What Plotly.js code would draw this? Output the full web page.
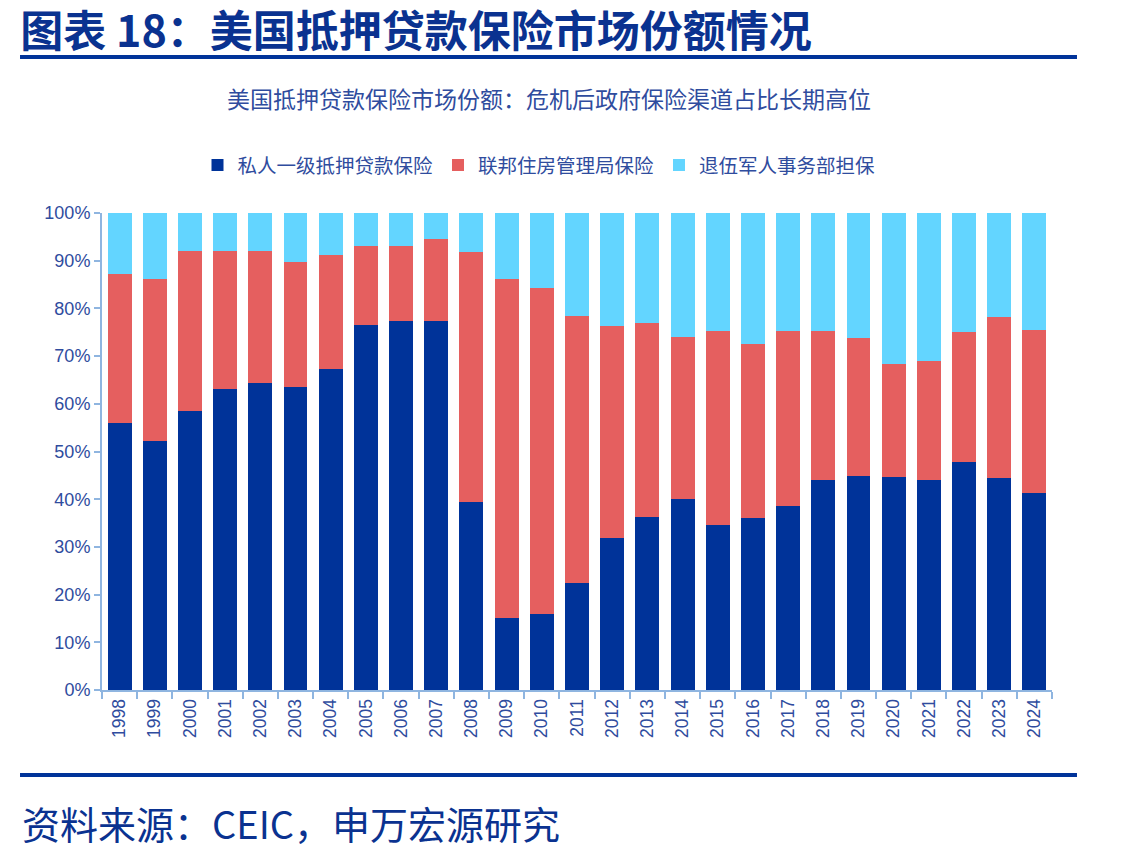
<!DOCTYPE html>
<html>
<head>
<meta charset="utf-8">
<script src="https://cdn.plot.ly/plotly-3.0.1.min.js"></script>
<style>
  html, body { margin: 0; padding: 0; background: #ffffff; }
  #chart { width: 1125px; height: 852px; }
</style>
</head>
<body>
<div id="chart"></div>
<script>
// US mortgage insurance market share by channel, 1998-2024 (%)
const years = ['1998','1999','2000','2001','2002','2003','2004','2005','2006','2007','2008','2009','2010','2011',
               '2012','2013','2014','2015','2016','2017','2018','2019','2020','2021','2022','2023','2024'];

// Private primary mortgage insurance
const privateShare = [56.0, 52.2, 58.5, 63.0, 64.4, 63.6, 67.2, 76.5, 77.4, 77.4, 39.4, 15.2, 15.9, 22.4,
                      31.8, 36.3, 40.0, 34.6, 36.1, 38.5, 44.0, 44.9, 44.7, 44.0, 47.9, 44.5, 41.2];
// Federal Housing Administration
const fhaShare = [31.2, 34.0, 33.6, 29.1, 27.7, 26.1, 24.0, 16.6, 15.7, 17.1, 52.4, 70.9, 68.3, 56.0,
                  44.6, 40.6, 34.1, 40.6, 36.5, 36.7, 31.2, 29.0, 23.6, 25.0, 27.2, 33.8, 34.3];
// Department of Veterans Affairs guarantees
const vaShare = [12.8, 13.8, 7.9, 7.9, 7.9, 10.3, 8.8, 6.9, 6.9, 5.5, 8.2, 13.9, 15.8, 21.6,
                 23.6, 23.1, 25.9, 24.8, 27.4, 24.8, 24.8, 26.1, 31.7, 31.0, 24.9, 21.7, 24.5];

const seriesNames = ['私人一级抵押贷款保险', '联邦住房管理局保险', '退伍军人事务部担保'];

const mainTitle = '图表 18：美国抵押贷款保险市场份额情况';
const subTitle = '美国抵押贷款保险市场份额：危机后政府保险渠道占比长期高位';
const sourceNote = '资料来源：CEIC，申万宏源研究';

const CJK = '"Noto Sans CJK SC", "Noto Sans", sans-serif';
const LATIN = 'Arial, "Liberation Sans", "Noto Sans CJK SC", sans-serif';
const DARK_BLUE = '#0a3290';
const LABEL_BLUE = '#2f4c9e';
const AXIS_BLUE = '#8fb5e0';

function barTrace(name, values, color) {
  return {
    type: 'bar', name: name, x: years, y: values,
    marker: { color: color, line: { width: 0 } },
    hoverinfo: 'x+y+name'
  };
}

const data = [
  barTrace(seriesNames[0], privateShare, '#003399'),
  barTrace(seriesNames[1], fhaShare, '#e55f5f'),
  barTrace(seriesNames[2], vaShare, '#63d5ff')
];

const layout = {
  width: 1125, height: 852,
  paper_bgcolor: '#ffffff', plot_bgcolor: '#ffffff',
  margin: { l: 102, r: 73, t: 213, b: 162 },
  barmode: 'stack',
  bargap: 0.32,
  showlegend: true,
  legend: {
    orientation: 'h', x: 0.46, xanchor: 'center', y: 1.10, yanchor: 'middle',
    font: { family: CJK, size: 19.5, color: LABEL_BLUE },
    traceorder: 'normal', itemclick: false, itemdoubleclick: false,
    itemwidth: 20
  },
  title: {
    text: '<b>' + mainTitle + '</b>',
    xref: 'container', yref: 'container',
    x: 0.018, xanchor: 'left', y: 0.962, yanchor: 'middle',
    font: { family: CJK, size: 43, color: DARK_BLUE }
  },
  xaxis: {
    type: 'category',
    showline: true, linecolor: AXIS_BLUE, linewidth: 2,
    ticks: 'outside', tickson: 'boundaries', ticklen: 7, tickwidth: 2, tickcolor: AXIS_BLUE,
    tickangle: -90,
    tickfont: { family: LATIN, size: 17.5, color: LABEL_BLUE },
    showgrid: false, zeroline: false
  },
  yaxis: {
    range: [0, 100], dtick: 10, ticksuffix: '%',
    showline: true, linecolor: AXIS_BLUE, linewidth: 2,
    ticks: 'outside', ticklen: 6, tickwidth: 2, tickcolor: AXIS_BLUE,
    tickfont: { family: LATIN, size: 18, color: LABEL_BLUE },
    showgrid: false, zeroline: false
  },
  annotations: [
    {
      text: subTitle, xref: 'paper', yref: 'paper', x: 0.4705, y: 1.241,
      xanchor: 'center', yanchor: 'middle', showarrow: false,
      font: { family: CJK, size: 23, color: LABEL_BLUE }
    },
    {
      text: sourceNote, xref: 'paper', yref: 'paper', x: -0.086, y: -0.277,
      xanchor: 'left', yanchor: 'middle', showarrow: false,
      font: { family: CJK, size: 38, color: DARK_BLUE }
    }
  ],
  shapes: [
    {
      type: 'line', xref: 'paper', yref: 'paper',
      x0: -0.0863, x1: 1.0263, y0: 1.327, y1: 1.327,
      line: { color: '#003399', width: 4 }
    },
    {
      type: 'line', xref: 'paper', yref: 'paper',
      x0: -0.0863, x1: 1.0263, y0: -0.178, y1: -0.178,
      line: { color: '#003399', width: 4 }
    }
  ]
};

Plotly.newPlot('chart', data, layout, { displayModeBar: false, staticPlot: true });
</script>
</body>
</html>
